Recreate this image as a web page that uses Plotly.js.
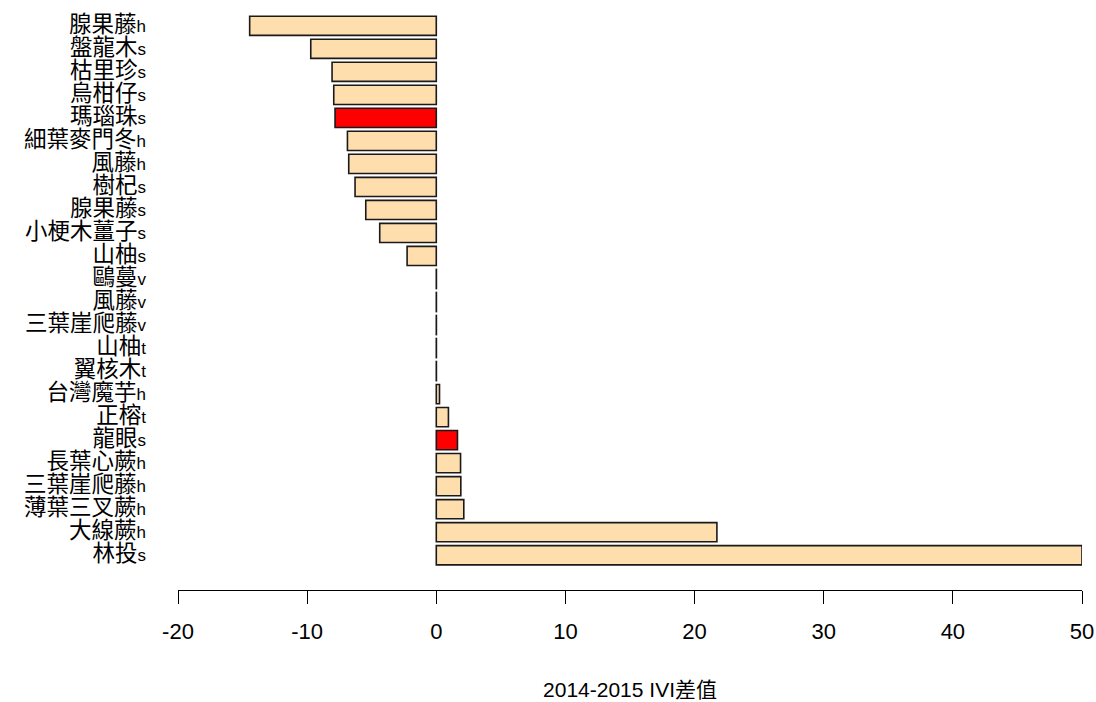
<!DOCTYPE html>
<html>
<head>
<meta charset="utf-8">
<script src="https://cdn.plot.ly/plotly-3.0.1.min.js"></script>
<style>html,body{margin:0;padding:0;background:#fff;}#chart{width:1096px;height:702px;}</style>
</head>
<body>
<div id="chart"></div>
<script>
// Species names (top to bottom) and life-form suffix
const names = ["腺果藤","盤龍木","枯里珍","烏柑仔","瑪瑙珠","細葉麥門冬","風藤","樹杞","腺果藤","小梗木薑子","山柚","鷗蔓","風藤","三葉崖爬藤","山柚","翼核木","台灣魔芋","正榕","龍眼","長葉心蕨","三葉崖爬藤","薄葉三叉蕨","大線蕨","林投"];
const suffixes = ["h","s","s","s","s","h","h","s","s","s","s","v","v","v","t","t","h","t","s","h","h","h","h","s"];
// 2014-2015 IVI difference
const diffs = [-14.45,-9.72,-8.07,-7.94,-7.84,-6.88,-6.78,-6.29,-5.46,-4.38,-2.26,0.01,0.01,0.01,0.01,0.01,0.25,0.94,1.64,1.88,1.90,2.13,21.73,50.0];
// highlighted species
const highlighted = ["瑪瑙珠s","龍眼s"];
const xTicks = [-20,-10,0,10,20,30,40,50];

const cats = names.map((n,i)=>n+suffixes[i]);
const tickLabels = names.map((n,i)=>'<span style="font-size:22.5px">'+n+'</span>'+suffixes[i]);
const colors = cats.map(c => highlighted.includes(c) ? '#FF0000' : '#FFDEAD');

const FONT = "'Liberation Sans', Arial, 'Noto Sans CJK TC', sans-serif";

Plotly.newPlot('chart', [{
  type: 'bar',
  orientation: 'h',
  x: diffs,
  y: cats,
  width: 0.833,
  marker: {color: colors, line: {color: '#1a1a1a', width: 1.6}},
  hoverinfo: 'x+y'
}], {
  width: 1096, height: 702,
  margin: {l: 178, r: 14, t: 3, b: 112},
  paper_bgcolor: '#ffffff', plot_bgcolor: '#ffffff',
  showlegend: false,
  font: {family: FONT, color: '#000000', size: 22},
  xaxis: {
    range: [-20, 50],
    tickvals: xTicks,
    ticktext: xTicks.map(String),
    ticks: 'outside', ticklen: 13, tickwidth: 1, tickcolor: '#000',
    showline: true, linecolor: '#000', linewidth: 1,
    showgrid: false, zeroline: false,
    tickfont: {size: 22, family: FONT},
    ticklabelstandoff: 9,
    title: {text: '2014-2015 IVI差值', font: {size: 21, family: FONT}, standoff: 38}
  },
  yaxis: {
    type: 'category',
    categoryorder: 'array', categoryarray: cats,
    range: [24.51, -0.99],
    tickvals: cats, ticktext: tickLabels,
    showline: false, showgrid: false, zeroline: false,
    ticks: '', ticklabelstandoff: 31,
    tickfont: {size: 17, family: FONT}
  }
}, {staticPlot: true});
</script>
</body>
</html>
